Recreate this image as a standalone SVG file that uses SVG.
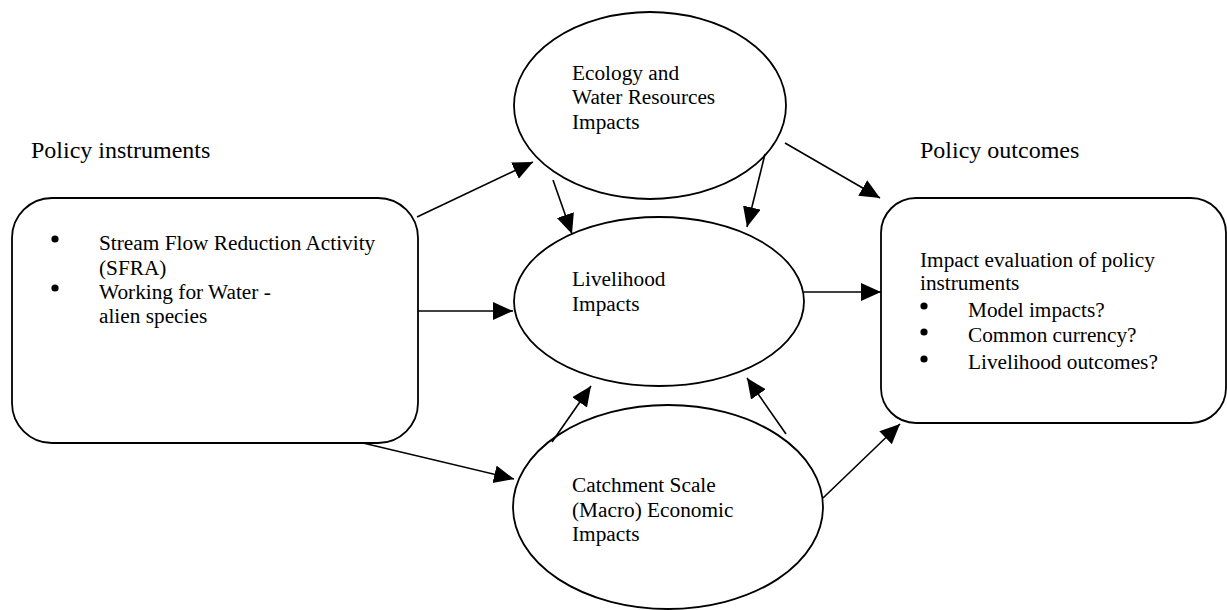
<svg xmlns="http://www.w3.org/2000/svg" width="1227" height="610" viewBox="0 0 1227 610">
<style>
.shape{fill:#fff;stroke:#000;stroke-width:1.8}
.conn{stroke:#000;stroke-width:1.6;fill:none}
.dot{fill:#000}
.t{font-family:"Liberation Serif","Times New Roman",serif;font-size:21.3px;fill:#000}
.title{font-family:"Liberation Serif","Times New Roman",serif;font-size:24px;fill:#000}
</style>
<defs>
<marker id="arr" markerUnits="userSpaceOnUse" markerWidth="22" markerHeight="20" refX="20" refY="9" orient="auto">
<path d="M0,0 L20,9 L0,18 Z" fill="#000"/>
</marker>
</defs>
<rect width="1227" height="610" fill="#fff"/>
<text class="title" x="31" y="158">Policy instruments</text>
<text class="title" x="920" y="158">Policy outcomes</text>
<g id="policy-instruments">
<rect class="shape" x="12" y="198" width="406" height="245" rx="40" ry="40"/>
<circle class="dot" cx="55" cy="239" r="3.6"/>
<text class="t" x="99" y="250">Stream Flow Reduction Activity</text>
<text class="t" x="99" y="275">(SFRA)</text>
<circle class="dot" cx="55" cy="288" r="3.6"/>
<text class="t" x="99" y="299">Working for Water -</text>
<text class="t" x="99" y="323">alien species</text>
</g>
<g id="ecology">
<ellipse class="shape" cx="650" cy="105.5" rx="136" ry="93.5"/>
<text class="t" x="572" y="80">Ecology and</text>
<text class="t" x="572" y="104">Water Resources</text>
<text class="t" x="572" y="129">Impacts</text>
</g>
<g id="livelihood">
<ellipse class="shape" cx="659" cy="301.5" rx="145" ry="84.5"/>
<text class="t" x="572" y="286">Livelihood</text>
<text class="t" x="572" y="311">Impacts</text>
</g>
<g id="catchment">
<ellipse class="shape" cx="668" cy="507" rx="155" ry="102"/>
<text class="t" x="572" y="492">Catchment Scale</text>
<text class="t" x="572" y="517">(Macro) Economic</text>
<text class="t" x="572" y="541">Impacts</text>
</g>
<g id="policy-outcomes">
<rect class="shape" x="881" y="198" width="345" height="225" rx="35" ry="35"/>
<text class="t" x="920" y="267">Impact evaluation of policy</text>
<text class="t" x="920" y="290">instruments</text>
<circle class="dot" cx="924" cy="306" r="3.6"/>
<text class="t" x="968" y="317">Model impacts?</text>
<circle class="dot" cx="924" cy="332" r="3.6"/>
<text class="t" x="968" y="342">Common currency?</text>
<circle class="dot" cx="924" cy="359" r="3.6"/>
<text class="t" x="968" y="369">Livelihood outcomes?</text>
</g>
<g id="connectors">
<line class="conn" x1="417" y1="217" x2="533" y2="162" marker-end="url(#arr)"/>
<line class="conn" x1="418" y1="311" x2="513" y2="311" marker-end="url(#arr)"/>
<line class="conn" x1="363" y1="443" x2="514" y2="479" marker-end="url(#arr)"/>
<line class="conn" x1="553" y1="180" x2="572" y2="234" marker-end="url(#arr)"/>
<line class="conn" x1="765" y1="154" x2="747" y2="227" marker-end="url(#arr)"/>
<line class="conn" x1="785" y1="143" x2="880" y2="198" marker-end="url(#arr)"/>
<line class="conn" x1="804" y1="292" x2="881" y2="292" marker-end="url(#arr)"/>
<line class="conn" x1="552" y1="442" x2="591" y2="386" marker-end="url(#arr)"/>
<line class="conn" x1="786" y1="434" x2="747" y2="378" marker-end="url(#arr)"/>
<line class="conn" x1="823" y1="498" x2="900" y2="424" marker-end="url(#arr)"/>
</g>
</svg>
